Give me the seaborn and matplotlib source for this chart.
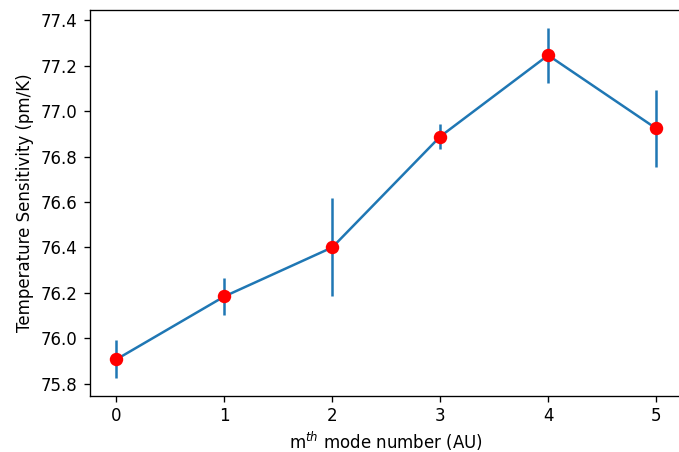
import matplotlib
matplotlib.use("Agg")
import matplotlib.pyplot as plt
import seaborn as sns
import pandas as pd

# data
mode = [0, 1, 2, 3, 4, 5]
sensitivity = [75.907, 76.184, 76.400, 76.888, 77.246, 76.924]
err = [0.083, 0.081, 0.216, 0.055, 0.122, 0.169]

df = pd.DataFrame({'mode': mode, 'sens': sensitivity, 'err': err})

plt.rcParams.update({'font.family': 'DejaVu Sans', 'font.size': 10})

fig = plt.figure(figsize=(679 / 120, 452 / 120), dpi=120)
ax = fig.add_axes([89.5 / 679, (452 - 395.7) / 452, (683 - 89.5) / 679, (395.7 - 10) / 452])

ax.errorbar(df['mode'], df['sens'], yerr=df['err'], fmt='none', ecolor='C0', elinewidth=1.5, zorder=2)
sns.lineplot(data=df, x='mode', y='sens', color='C0', linewidth=1.5, ax=ax, zorder=2)
sns.scatterplot(data=df, x='mode', y='sens', color='red', s=65, edgecolor='red', linewidth=0, ax=ax, zorder=3)

ax.spines['right'].set_visible(False)
ax.set_yticks([75.8, 76.0, 76.2, 76.4, 76.6, 76.8, 77.0, 77.2, 77.4])
ax.set_xlabel('m$^{th}$ mode number (AU)', labelpad=2.5)
ax.set_ylabel('Temperature Sensitivity (pm/K)')

fig.savefig('out.png', dpi=120)
